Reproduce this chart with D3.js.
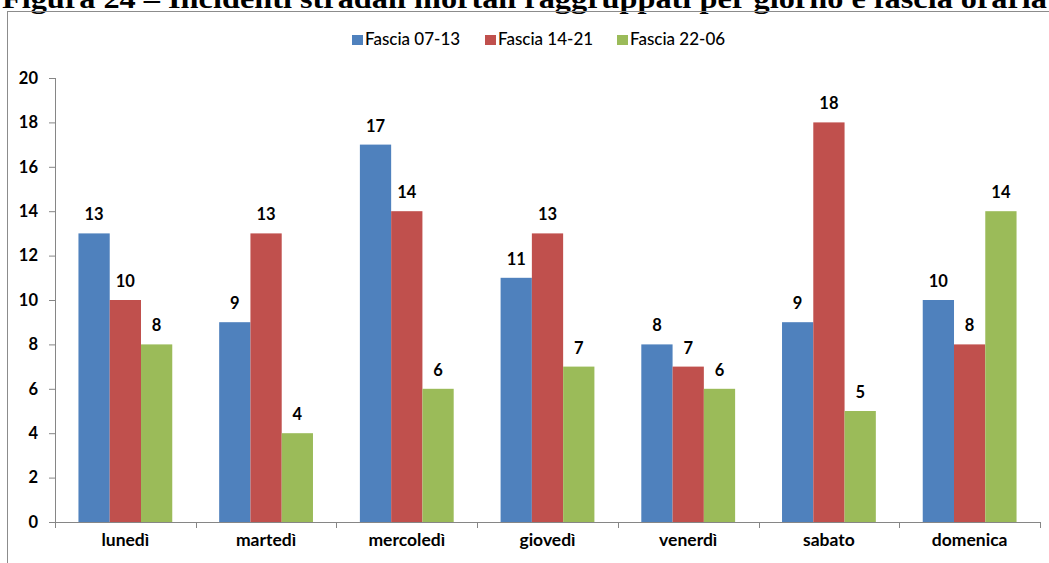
<!DOCTYPE html>
<html>
<head>
<meta charset="utf-8">
<script src="https://cdn.jsdelivr.net/npm/d3@7"></script>
<style>
  html, body { margin: 0; padding: 0; background: #fff; }
  svg { display: block; }
</style>
</head>
<body>
<svg id="chart" width="1049" height="563"></svg>
<script>
const categories = ["lunedì", "martedì", "mercoledì", "giovedì", "venerdì", "sabato", "domenica"];
const seriesNames = ["Fascia 07-13", "Fascia 14-21", "Fascia 22-06"];
const fascia0713 = [13, 9, 17, 11, 8, 9, 10];
const fascia1421 = [10, 13, 14, 13, 7, 18, 8];
const fascia2206 = [8, 4, 6, 7, 6, 5, 14];
const yTicks = [0, 2, 4, 6, 8, 10, 12, 14, 16, 18, 20];
const colors = ["#4F81BD", "#C0504D", "#9BBB59"];
const titleText = "Figura 24 – Incidenti stradali  mortali raggruppati per giorno e fascia oraria";

const seriesValues = [fascia0713, fascia1421, fascia2206];

const svg = d3.select("#chart");
const font = "Lato, 'Open Sans', sans-serif";

// Title (cropped at top in the reference)
svg.append("text")
  .attr("x", 2).attr("y", 8)
  .attr("font-family", "'Liberation Serif', 'Times New Roman', serif")
  .attr("font-weight", "bold")
  .attr("font-size", 28)
  .attr("fill", "#000")
  .attr("textLength", 1045)
  .attr("lengthAdjust", "spacingAndGlyphs")
  .text(titleText);

// Chart border
svg.append("rect")
  .attr("x", 7.5).attr("y", 11.5)
  .attr("width", 1100).attr("height", 600)
  .attr("fill", "none").attr("stroke", "#8c8c8c").attr("stroke-width", 1);

const pLeft = 55, pRight = 1040, pTop = 78, pBottom = 522;

const x = d3.scaleBand().domain(categories).range([pLeft, pRight]).padding(0);
const W = x.bandwidth();
const barW = W / 4.5;
const x1 = d3.scaleBand().domain(seriesNames).range([0.75 * barW, W - 0.75 * barW]).padding(0);
const y = d3.scaleLinear().domain([0, 20]).range([pBottom, pTop]);

// Bars
const rows = categories.map((c, i) => ({ cat: c, vals: seriesNames.map((s, j) => ({ s, j, v: seriesValues[j][i] })) }));
const g = svg.append("g");
const groups = g.selectAll("g.cat").data(rows).join("g")
  .attr("class", "cat")
  .attr("transform", d => `translate(${x(d.cat)},0)`);
groups.selectAll("rect").data(d => d.vals).join("rect")
  .attr("x", d => x1(d.s))
  .attr("y", d => y(d.v))
  .attr("width", x1.bandwidth())
  .attr("height", d => y(0) - y(d.v))
  .attr("fill", d => colors[d.j]);
groups.selectAll("text").data(d => d.vals).join("text")
  .attr("x", d => x1(d.s) + x1.bandwidth() / 2)
  .attr("y", d => y(d.v) - 13)
  .attr("text-anchor", "middle")
  .attr("font-family", font).attr("font-weight", "bold").attr("font-size", 16.5)
  .attr("fill", "#000")
  .text(d => d.v);

// Y axis
const yAxis = d3.axisLeft(y).tickValues(yTicks).tickSize(6).tickPadding(11);
const ya = svg.append("g").attr("transform", `translate(${pLeft},0)`).call(yAxis);
ya.select(".domain").attr("stroke", "#868686").attr("d", `M0.5,${pTop}V${pBottom + 0.5}`);
ya.selectAll(".tick line").attr("stroke", "#868686");
ya.selectAll(".tick text").attr("font-family", font).attr("font-weight", "bold").attr("font-size", 16.5).attr("fill", "#000");

// X axis
const xa = svg.append("g").attr("transform", `translate(0,${pBottom})`);
xa.append("line").attr("x1", pLeft).attr("x2", pRight).attr("y1", 0.5).attr("y2", 0.5).attr("stroke", "#868686");
const bounds = categories.map(c => x(c)).concat([pRight]);
xa.selectAll("line.tk").data(bounds).join("line").attr("class", "tk")
  .attr("x1", d => Math.round(d) + 0.5).attr("x2", d => Math.round(d) + 0.5)
  .attr("y1", 0).attr("y2", 6).attr("stroke", "#868686");
xa.selectAll("text").data(categories).join("text")
  .attr("x", d => x(d) + W / 2)
  .attr("y", 24)
  .attr("text-anchor", "middle")
  .attr("font-family", font).attr("font-weight", "bold").attr("font-size", 17.5)
  .attr("fill", "#000")
  .text(d => d);

// Legend
const legendX = [352, 485, 617];
const lg = svg.append("g").selectAll("g").data(seriesNames).join("g")
  .attr("transform", (d, i) => `translate(${legendX[i]},35)`);
lg.append("rect").attr("width", 11).attr("height", 10).attr("fill", (d, i) => colors[i]);
lg.append("text").attr("x", 13).attr("y", 10)
  .attr("font-family", font).attr("font-weight", 500).attr("font-size", 17).attr("fill", "#000")
  .text(d => d);
</script>
</body>
</html>
